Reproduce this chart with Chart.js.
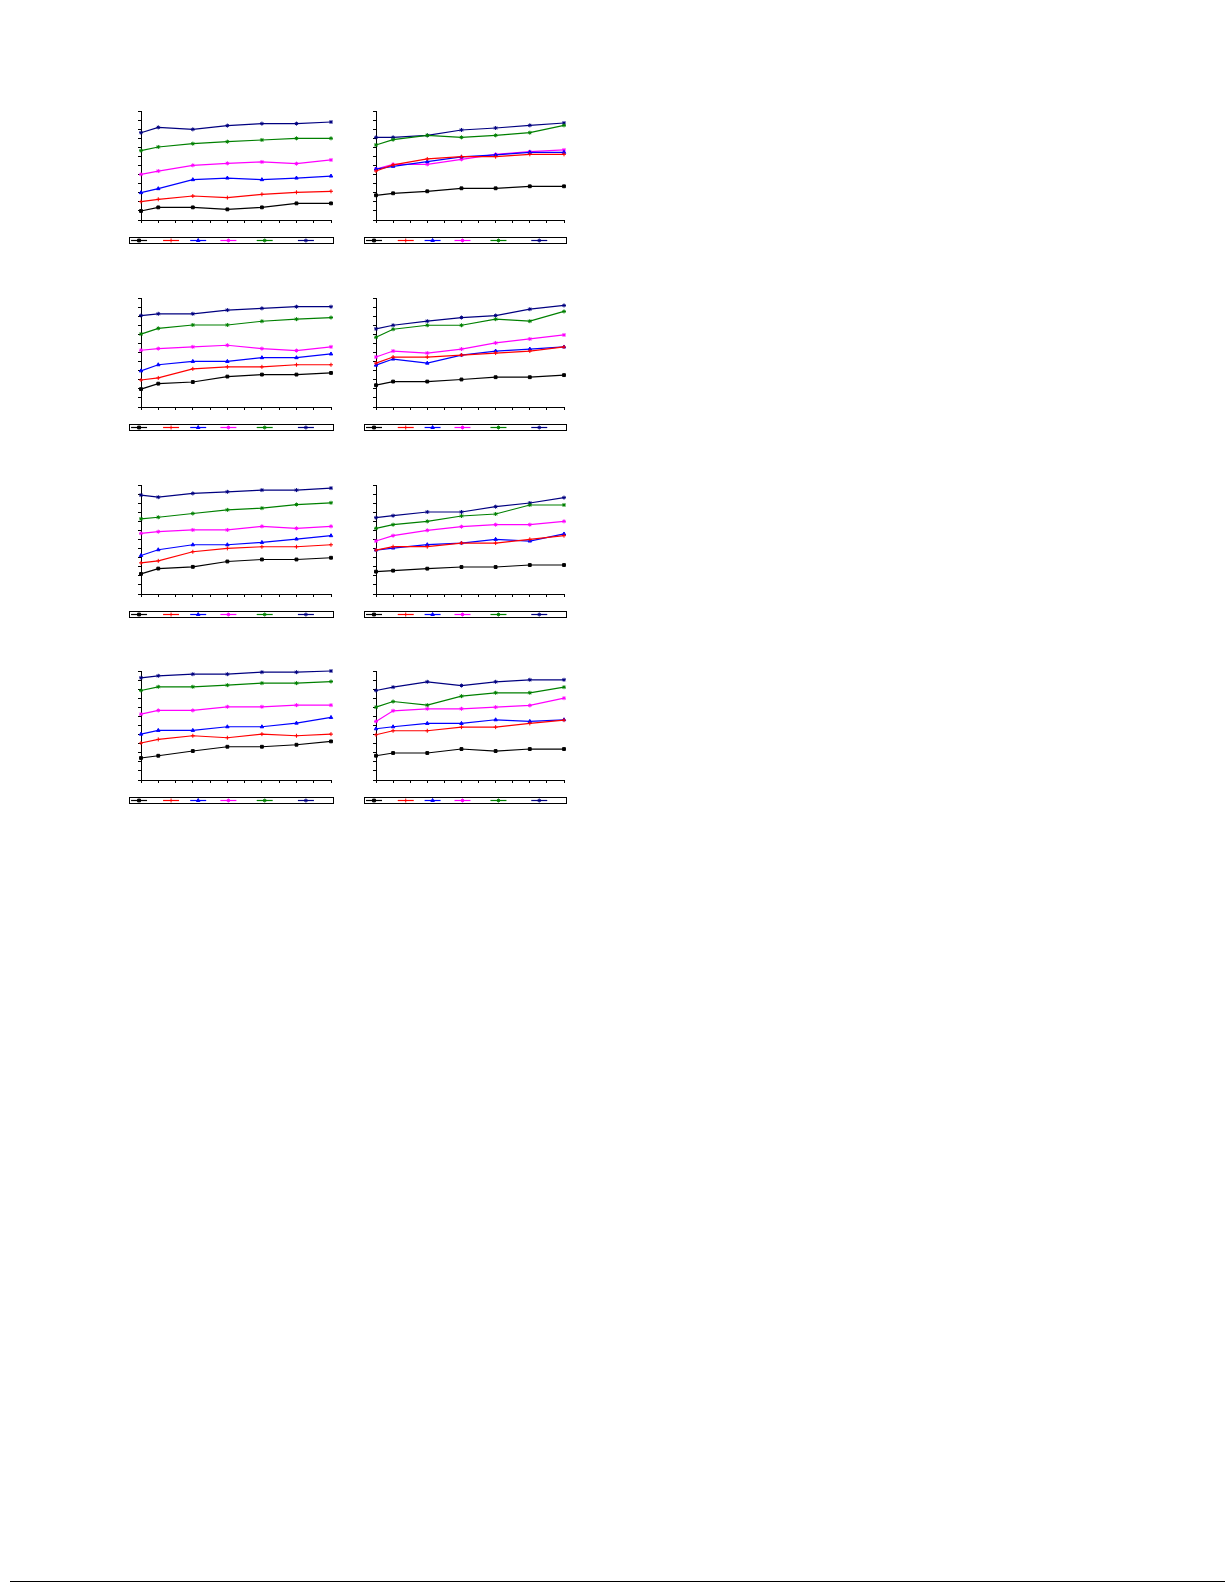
<!DOCTYPE html>
<html>
<head>
<meta charset="utf-8">
<script src="https://cdn.jsdelivr.net/npm/chart.js@4.4.1/dist/chart.umd.min.js"></script>
<style>
body { margin: 0; background: #fff; width: 1225px; height: 1585px; position: relative; overflow: hidden; }
canvas { position: absolute; }
#rule { position: absolute; left: 10px; width: 1215px; top: 1581px; border-top: 1px solid #000; }
</style>
</head>
<body>
<div id="rule"></div>
<script>
// sampling days on the x axis
const xDays = [0, 1, 3, 5, 7, 9, 11];

// series order: black, red, blue, magenta, green, navy
const seriesColors = ['#000000', '#ff0000', '#0000ff', '#ff00ff', '#008000', '#000080'];
const seriesMarkers = ['rect', 'cross', 'triangle', 'star', 'star', 'star'];

// values read per panel, one row per series
const panel1 = [
    [0.99, 1.39, 1.39, 1.17, 1.39, 1.83, 1.83],
    [2.02, 2.28, 2.64, 2.46, 2.83, 3.05, 3.16],
    [3.01, 3.45, 4.44, 4.62, 4.44, 4.62, 4.84],
    [5.03, 5.39, 6.02, 6.24, 6.39, 6.20, 6.61],
    [7.63, 8.04, 8.40, 8.62, 8.81, 8.99, 8.99],
    [9.61, 10.2, 9.98, 10.39, 10.61, 10.61, 10.79]
];
const panel2 = [
    [2.72, 2.94, 3.16, 3.49, 3.49, 3.71, 3.71],
    [5.39, 6.06, 6.72, 6.97, 6.97, 7.23, 7.23],
    [5.61, 5.91, 6.42, 6.94, 7.16, 7.45, 7.45],
    [5.61, 6.13, 6.13, 6.68, 7.23, 7.52, 7.71],
    [8.26, 8.84, 9.32, 9.10, 9.32, 9.61, 10.42],
    [9.10, 9.10, 9.32, 9.91, 10.13, 10.42, 10.68]
];
const panel3 = [
    [1.97, 2.57, 2.75, 3.35, 3.57, 3.57, 3.75],
    [2.97, 3.20, 4.20, 4.42, 4.42, 4.65, 4.65],
    [3.98, 4.65, 5.02, 5.02, 5.43, 5.43, 5.84],
    [6.25, 6.43, 6.62, 6.80, 6.43, 6.21, 6.62],
    [8.03, 8.66, 9.03, 9.03, 9.44, 9.67, 9.85],
    [10.07, 10.26, 10.26, 10.67, 10.86, 11.04, 11.04]
];
const panel4 = [
    [2.40, 2.80, 2.80, 3.03, 3.28, 3.28, 3.51],
    [4.83, 5.50, 5.50, 5.72, 5.94, 6.16, 6.61],
    [4.61, 5.28, 4.83, 5.72, 6.16, 6.38, 6.61],
    [5.50, 6.16, 5.94, 6.38, 7.05, 7.49, 7.93],
    [7.68, 8.56, 9.00, 9.00, 9.67, 9.45, 10.52],
    [8.60, 9.00, 9.45, 9.85, 10.07, 10.77, 11.18]
];
const panel5 = [
    [2.21, 2.80, 2.99, 3.58, 3.80, 3.80, 3.99],
    [3.43, 3.65, 4.65, 5.02, 5.20, 5.20, 5.42],
    [4.24, 4.87, 5.42, 5.42, 5.68, 6.05, 6.42],
    [6.68, 6.86, 7.05, 7.05, 7.45, 7.23, 7.45],
    [8.27, 8.45, 8.86, 9.26, 9.45, 9.85, 10.04],
    [10.89, 10.66, 11.07, 11.25, 11.44, 11.44, 11.66]
];
const panel6 = [
    [2.46, 2.57, 2.79, 2.97, 2.97, 3.19, 3.19],
    [4.84, 5.21, 5.21, 5.61, 5.61, 6.02, 6.42],
    [4.84, 5.06, 5.43, 5.61, 6.02, 5.83, 6.61],
    [5.83, 6.42, 7.01, 7.41, 7.63, 7.63, 8.00],
    [7.23, 7.63, 8.00, 8.59, 8.81, 9.80, 9.80],
    [8.40, 8.62, 9.03, 9.03, 9.61, 10.02, 10.61]
];
const panel7 = [
    [2.42, 2.67, 3.19, 3.66, 3.66, 3.88, 4.25],
    [4.07, 4.47, 4.87, 4.65, 5.05, 4.87, 5.05],
    [5.05, 5.46, 5.46, 5.86, 5.86, 6.26, 6.89],
    [7.25, 7.66, 7.66, 8.06, 8.06, 8.24, 8.24],
    [9.85, 10.26, 10.26, 10.44, 10.66, 10.66, 10.84],
    [11.25, 11.47, 11.65, 11.65, 11.87, 11.87, 12.0]
];
const panel8 = [
    [2.67, 2.97, 2.97, 3.41, 3.19, 3.41, 3.41],
    [4.98, 5.42, 5.42, 5.82, 5.82, 6.23, 6.59],
    [5.64, 5.86, 6.23, 6.23, 6.63, 6.45, 6.63],
    [6.45, 7.62, 7.84, 7.84, 8.02, 8.21, 9.01],
    [8.02, 8.64, 8.24, 9.23, 9.60, 9.60, 10.22],
    [9.85, 10.22, 10.81, 10.40, 10.81, 11.03, 11.03]
];

const panels = [panel1, panel2, panel3, panel4, panel5, panel6, panel7, panel8];

// layout (page pixels)
const colAxisX = [141, 376];
const colPlotW = [190, 188];
const rowPlotTop = [111, 298, 485, 671];
const plotH = 109;
const legendOffsets = [0.01, 0.167, 0.30, 0.448, 0.626, 0.828];

const legendBox = {
    id: 'legendBox',
    afterDraw(chart) {
        const { ctx, chartArea } = chart;
        const x0 = Math.round(chartArea.left) - 12;
        const x1 = Math.round(chartArea.right) + 2;
        const y0 = Math.round(chartArea.bottom) + 17;
        const h = 6;
        const w = x1 - x0;
        ctx.save();
        ctx.strokeStyle = '#000';
        ctx.lineWidth = 1;
        ctx.strokeRect(x0 + 0.5, y0 + 0.5, w, h);
        const cy = y0 + h / 2 + 0.5;
        chart.data.datasets.forEach((ds, i) => {
            const sx = x0 + legendOffsets[i] * w;
            ctx.strokeStyle = ds.borderColor;
            ctx.fillStyle = ds.borderColor;
            ctx.lineWidth = 1.2;
            ctx.beginPath();
            ctx.moveTo(sx, cy);
            ctx.lineTo(sx + 16, cy);
            ctx.stroke();
            ctx.lineWidth = 1;
            Chart.helpers.drawPoint(ctx, { pointStyle: ds.pointStyle, radius: 2, borderWidth: 1, rotation: 0 }, sx + 8, cy);
        });
        ctx.restore();
    }
};

function makePanel(series, col, row) {
    const canvas = document.createElement('canvas');
    const left = colAxisX[col] - 16;
    const top = rowPlotTop[row] - 6;
    const width = 16 + colPlotW[col] + 8;
    const height = 6 + plotH + 30;
    canvas.width = width;
    canvas.height = height;
    canvas.style.left = left + 'px';
    canvas.style.top = top + 'px';
    canvas.style.width = width + 'px';
    canvas.style.height = height + 'px';
    document.body.appendChild(canvas);

    const datasets = series.map((vals, i) => ({
        data: vals.map((v, j) => ({ x: xDays[j], y: v })),
        borderColor: seriesColors[i],
        backgroundColor: seriesColors[i],
        borderWidth: 1.2,
        pointStyle: seriesMarkers[i],
        pointRadius: 2,
        pointBorderWidth: 1,
        tension: 0,
        clip: false
    }));

    new Chart(canvas.getContext('2d'), {
        type: 'line',
        data: { datasets },
        plugins: [legendBox],
        options: {
            responsive: false,
            animation: false,
            devicePixelRatio: 1,
            layout: { padding: { left: 10, top: 6, right: 8, bottom: 0 } },
            plugins: { legend: { display: false }, tooltip: { enabled: false } },
            scales: {
                x: {
                    type: 'linear',
                    min: 0,
                    max: 11,
                    ticks: { stepSize: 1, display: false },
                    grid: { drawOnChartArea: false, tickLength: 3, color: '#000' },
                    border: { color: '#000', width: 1 },
                    afterFit: s => { s.height = 30; }
                },
                y: {
                    min: 0,
                    max: 12,
                    ticks: { stepSize: 1, display: false },
                    grid: { drawOnChartArea: false, tickLength: 3, color: '#000' },
                    border: { color: '#000', width: 1 },
                    afterFit: s => { s.width = 6; }
                }
            }
        }
    });
}

panels.forEach((series, k) => makePanel(series, k % 2, Math.floor(k / 2)));
</script>
</body>
</html>
